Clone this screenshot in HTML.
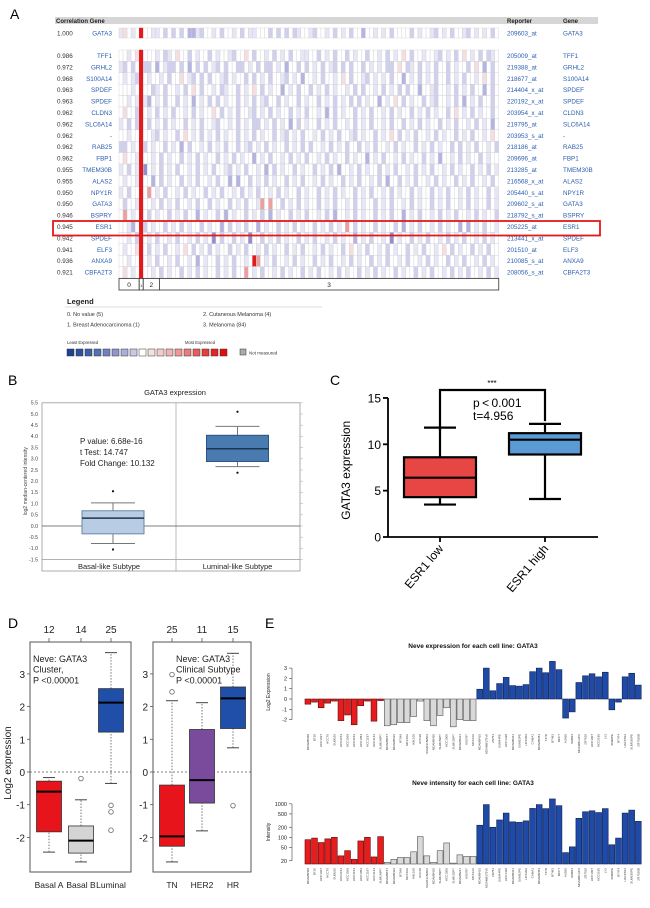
<!DOCTYPE html>
<html><head><meta charset="utf-8">
<style>
html,body{margin:0;padding:0;background:#fff;}
svg{display:block;font-family:"Liberation Sans",sans-serif;}
</style></head>
<body>
<svg id="fig" width="650" height="908" viewBox="0 0 650 908" xmlns="http://www.w3.org/2000/svg"></svg>
<script>
// ---------- Panel A data ----------
const heatGenes = ["GATA3","TFF1","GRHL2","S100A14","SPDEF","SPDEF","CLDN3","SLC6A14","-","RAB25","FBP1","TMEM30B","ALAS2","NPY1R","GATA3","BSPRY","ESR1","SPDEF","ELF3","ANXA9","CBFA2T3"];
const heatCorr = ["1.000","0.986","0.972","0.968","0.963","0.963","0.962","0.962","0.962","0.962","0.962","0.955","0.955","0.950","0.950","0.946","0.945","0.942","0.941","0.936","0.921"];
const heatReporters = ["209603_at","205009_at","219388_at","218677_at","214404_x_at","220192_x_at","203954_x_at","219795_at","203953_s_at","218186_at","209696_at","213285_at","216568_x_at","205440_s_at","209602_s_at","218792_s_at","205225_at","213441_x_at","201510_at","210085_s_at","208056_s_at"];
const heatRows = [
"1p.1.R..11.2.2.2.3312..1.2..1.2.11...2.2.2.21..12..1.2.1.2..3..1.1.2....2.1..12.1.2..12.1.1.2.2",
"..1.pR...1.21.p..2.1..2.1..12..p.2..1.2.1.2..11..2.1.2..2.1..2..1.2.1.p.2..1..12.1.2.p.1.2.21.1",
"12.2.R22.3.122.2.3.2.2.12.2..22.1.2.22.1.3..2.2.1.2.12.2.2..2.1.1.22.p.21.2.1.2..2.1..2.p.3.2.",
".1.12R.1..1.2..p.12.2.2..12.1..2.2.1.2..12.1.3..1.2..1.p.2..12.1.1.2..3.1.2.1.2..2.1.2..1.p.2.1",
"...1.R..21.2..1.2.p.2..1.21..2.1.p.2.1..3.1.2..2.1.2.1..1.2.2..1.2.1.2.2..3..12..1.2.1.2..3.2.3",
"..1.1R13.1.2..2.1.3.1.2.2.1..2.1.2.12..2.1..2.1..2.1.2.1.2.2.1..3.1.p.2.1..2.12..1.2.3.1.2..2.1",
".p..2R.1.2.1.2..1.2.1..p.2.1.2..12.1.2.1..2.1.2..1.3.2.1..2.1.2..1.2.1..2.1.2.1..2.p.1.2.1..2.",
"1.2.2R.2.1.2.1..2.1.2..12..1.2.1.22.1.2.1.3.2.1..2.1.2..1.2.1.2..1.2..2.1.2.1..2.1.2..1.2.1.3.",
"..1..R..12.1..2.p.1.2.1.2.1..2.1.2.1..2.12.1.2..1.2.1.2..12.1..2.1.p.2.1.2..1.2.1..2.1.2..1.p.",
"22.1.R2.1..2.1.3.2..1.2.1.2..2.12.1.2.1..2.1.2.2..1.2.1.2..2.1.2..1.2.1..2.1.2.1..2.2.1.2..1.2",
".p..1R..1.2.1..2.1.2.1..2.1.2.1..3.1.2..1.2.1.2..1.2.1..2.1..3.1.2..1.2.1..2.1.3..1.2.1..2.1..",
"1.2.1R4.1.2.1.2..1.2.1.2..12.1.2..1.3.2.1..2.1..2.1.2.3..1.2.1..2.1.2..1.2.1.2..1.2.1..2.1.2.1",
".1..1R..3.2.1..2.1.2..1.2..3.3..2.1.2.1..2.1.2..1.2.1..2.1.2..1.2.3..2.1.2..1.2.1..2.1.2..1.2.",
"1.2..R.q.1.2..1.2.1..2.1.2..1.2.1.2..1.2.1..2.1..2.1.2.1..2.1.2..1.2.1..2.1..2.1.2..1.2.1..2.1",
".2..1R..1.2.1.2..1.2..2.1..2.1.2..1q.q..2.1.2.1..2.1.2..1.2.1..2.1.2..1.2.1..2.1.2..1.2.1..2.1",
".q.1.R.2.1..2.1.2..3.1..2.3.1..2.1.2.3.1..2.1.2..1.2.3..1.2.1..2.1.2..3.1.2..1.2.1.2..1.2.1..2",
"..13.R2.1..2.1.2.1..2.1..3.2.1.2..3.1..2.1.2.1..2.1.2.1.q.2.1..2.1..2.3.1.2..1.2.1..3.3.1.2..1",
"..1.2R.1.2..1.2..1.2.1.4.2..2.1.4..2.1.2.1..2.1.2..1.2.1..3.1.2..1.4.1..2.1.2..1.2.1.2..1.2.1.3",
".1..pR.2.1.2..1.p.2.1.2.1..2.1.2..1.2.1..2.1.2..1.2.1..2.p.1.2..1.2.1..2.1.2..1.p.2.1..2.1.2.",
"..1..R.1.2..1.2..1.3.1..2.1.2..1.Rq.1.2..1.2.1..2.1.2..1.2.1..2.1.2..1.2..1.2.1..2.1.2..1.2.1.",
".p.1.R..1.2.1..2.1.2.1..2.1.2..q.1.2..1.2.1..2.1.2..1.2.1..2.1.2.1..2.1..2.1.2..1.2.1.2..1.2.1"
];
const groupLabels = ["0","1","2","3"];
const groupSizes = [5,1,4,84];
const legendItems = ["0. No value (5)","1. Breast Adenocarcinoma (1)","2. Cutaneous Melanoma (4)","3. Melanoma (84)"];

// ---------- Panel B data ----------
const bCats = ["Basal-like Subtype","Luminal-like Subtype"];
const bQ1 = [-0.35, 2.88];
const bQ3 = [0.68, 4.05];
const bMed = [0.35, 3.45];
const bLo = [-0.78, 2.65];
const bHi = [1.03, 4.45];
const bOutLo = [-1.05, 2.38];
const bOutHi = [1.55, 5.1];
const bTicks = [-1.5,-1.0,-0.5,0.0,0.5,1.0,1.5,2.0,2.5,3.0,3.5,4.0,4.5,5.0,5.5];

// ---------- Panel C data ----------
const cCats = ["ESR1 low","ESR1 high"];
const cQ1 = [4.3, 8.9];
const cQ3 = [8.6, 11.2];
const cMed = [6.4, 10.5];
const cLo = [3.5, 4.1];
const cHi = [11.8, 12.2];
const cTicks = [0,5,10,15];

// ---------- Panel D data ----------
const dCatsL = ["Basal A","Basal B","Luminal"];
const dCountsL = ["12","14","25"];
const dQ1L = [-1.83,-2.48,1.22];
const dQ3L = [-0.28,-1.65,2.55];
const dMedL = [-0.6,-2.1,2.12];
const dLoL = [-2.45,-2.75,-0.35];
const dHiL = [-0.17,-0.85,3.65];
const dOutL = [[],[-0.2],[-1.02,-1.22,-1.78]];
const dCatsR = ["TN","HER2","HR"];
const dCountsR = ["25","11","15"];
const dQ1R = [-2.27,-0.95,1.33];
const dQ3R = [-0.4,1.3,2.6];
const dMedR = [-1.97,-0.25,2.25];
const dLoR = [-2.75,-1.8,0.74];
const dHiR = [2.18,2.12,3.63];
const dOutR = [[2.45,2.98],[],[-1.03]];
const dTicks = [-2,-1,0,1,2,3];

// ---------- Panel E data ----------
const eCells = ["MDAMB468","BT20","HCC1937","HCC70","SUM225","HCC2153","HCC1569","HCC3153","HCC1954","HCC1187","HCC1143","SUM149PT",
"MDAMB157","MDAMB436","BT549","MCF10A","HBL100","HCC38","SUM1315MO2","MDAMB435","SUM159PT","HCC1500","SUM102PT","MDAMB231","HS578T","MCF12A",
"MDAMB415","MDAMB175VII","ZR751","SUM44PE","HCC1428","MDAMB361","SUM52PE","HCC202","CAMA1","MDAMB453","T47D","BT483","MCF7","AU565","SKBR3","MDAMB134VI","ZR7530","HCC1007","HCC2185","LY2","600MPE","BT474","UACC812","SUM185PE","ZR7530B"];
const eGroup = ["r","r","r","r","r","r","r","r","r","r","r","r",
"g","g","g","g","g","g","g","g","g","g","g","g","g","g",
"b","b","b","b","b","b","b","b","b","b","b","b","b","b","b","b","b","b","b","b","b","b","b","b","b"];
const eExpr = [-0.5,-0.3,-0.85,-0.4,-0.2,-2.1,-1.55,-2.5,-0.65,-0.2,-2.15,-0.15,
-2.6,-2.5,-2.3,-2.3,-1.7,-0.2,-2.1,-2.6,-1.6,-0.85,-2.7,-2.0,-2.1,-2.1,
0.95,3.0,0.8,1.5,2.1,1.3,1.25,1.4,2.65,3.0,2.55,3.65,2.85,-1.85,-1.25,1.6,2.25,2.45,2.15,2.6,-1.05,-0.3,2.15,2.5,1.35];
const eInt = [85,95,70,90,100,28,40,22,78,100,26,105,
18,22,25,25,37,105,28,18,40,68,17,30,27,27,
230,950,200,330,530,290,280,310,730,950,720,1400,880,35,52,370,580,620,550,720,60,95,530,650,300];
const eExprTicks = [-2,-1,0,1,2,3];
const eIntTicks = [20,50,100,200,500,1000];

// ---------- helpers ----------
const NS = "http://www.w3.org/2000/svg";
const S = document.getElementById("fig");
function el(tag, attrs, parent){
  const e = document.createElementNS(NS, tag);
  for (const k in attrs) e.setAttribute(k, attrs[k]);
  (parent || S).appendChild(e);
  return e;
}
function txt(x, y, s, size, anchor, fill, parent, weight){
  const t = el("text", {x:x, y:y, "font-size":size, "text-anchor":anchor||"start", fill:fill||"#000"}, parent);
  if (weight) t.setAttribute("font-weight", weight);
  t.textContent = s;
  return t;
}
function grp(){ return el("g", {}); }

// ---------- Panel letters ----------
[["A",10,19],["B",8,385],["C",330,385],["D",8,628],["E",265,628]].forEach(p=>{
  const t = txt(p[1], p[2], p[0], 14, "start", "#000");
  
  
});

// ---------- Panel A ----------
const gA = grp();


const hdr = el("rect", {x:55, y:17, width:543, height:7, fill:"#d6d6d6"}, gA);


txt(56, 23, "Correlation Gene", 6, "start", "#222", gA, "bold");
txt(507, 23, "Reporter", 6, "start", "#222", gA, "bold");
txt(563, 23, "Gene", 6, "start", "#222", gA, "bold");
const cellColors = {".":"#ffffff","1":"#e6e6f5","2":"#d0d0ec","3":"#b4b4e0","4":"#9090cc","p":"#f7dede","q":"#ef9e9e","R":"#e41a1a"};
const hx0 = 119, colW = 4.04, nCols = 94;
heatRows.forEach((row, i)=>{
  const y = i === 0 ? 28 : 50 + (i-1)*11.4;
  const h = i === 0 ? 10 : 11.4;
  const rg = el("g", {}, gA);
  
  
  for (let c = 0; c < nCols; c++){
    const ch = row[c] || ".";
    const r = el("rect", {x:hx0 + c*colW, y:y, width:colW, height:h, fill:cellColors[ch] || "#fff", stroke:"#cfcfd8", "stroke-width":0.4}, rg);
    if (c === 5) r.setAttribute("stroke", "#e41a1a");
    
    
  }
  const ty = y + h/2 + 2.3;
  txt(57, ty, heatCorr[i], 6.3, "start", "#333", gA);
  txt(112, ty, heatGenes[i], 6.3, "end", "#2a5db0", gA);
  txt(507, ty, heatReporters[i], 6.3, "start", "#2a5db0", gA);
  txt(563, ty, heatGenes[i], 6.3, "start", "#2a5db0", gA);
});
// group bar
const gb = el("g", {}, gA);


let gx = hx0;
groupSizes.forEach((n, k)=>{
  const w = n*colW;
  el("rect", {x:gx, y:278.5, width:w, height:11.5, fill:"#fff", stroke:"#333", "stroke-width":0.8}, gb);
  txt(gx + w/2, 287, groupLabels[k], k===1?4:6.5, "middle", "#222", gb);
  gx += w;
});
const hl = el("rect", {x:53, y:221, width:547, height:14.5, fill:"none", stroke:"#e41a1a", "stroke-width":1.8}, gA);


// legend
const lg = el("g", {}, gA);


txt(67, 304, "Legend", 7.5, "start", "#222", lg, "bold");
el("line", {x1:65, y1:307, x2:322, y2:307, stroke:"#ddd", "stroke-width":1}, lg);
txt(67, 316, legendItems[0], 5.5, "start", "#333", lg);
txt(67, 326.5, legendItems[1], 5.5, "start", "#333", lg);
txt(203, 316, legendItems[2], 5.5, "start", "#333", lg);
txt(203, 326.5, legendItems[3], 5.5, "start", "#333", lg);
txt(67, 344, "Least Expressed", 4.2, "start", "#333", lg);
txt(185, 344, "Most Expressed", 4.2, "start", "#333", lg);
const scale = ["#1d3f94","#2c4f9f","#3e5fa9","#5670b5","#7181c0","#8f96cc","#acaed8","#c9c9e5","#ffffff","#f6e0e0","#f5cccc","#f2b3b3","#ef9898","#ec7b7b","#e95c5c","#e63d3d","#e42323","#e20e0e"];
scale.forEach((c, k)=>{
  const sq = el("rect", {x:67 + k*9, y:349, width:7, height:7, fill:c, stroke:"#333", "stroke-width":0.5}, lg);
  
  
});
el("rect", {x:240, y:349, width:6, height:6, fill:"#aaa", stroke:"#333", "stroke-width":0.5}, lg);
txt(249, 354.5, "Not measured", 4.5, "start", "#333", lg);

// ---------- Panel B ----------
const gB = grp();


const yB = v => 526 - v*22.4;
const bCx = [113, 237.5];
const bt = txt(175, 395, "GATA3 expression", 7.5, "middle", "#222", gB);


el("rect", {x:42, y:yB(5.5), width:258, height:571-yB(5.5), fill:"none", stroke:"#999", "stroke-width":0.8}, gB);
el("line", {x1:176, y1:yB(5.5), x2:176, y2:571, stroke:"#aaa", "stroke-width":0.8}, gB);
el("line", {x1:42, y1:yB(-1.5), x2:300, y2:yB(-1.5), stroke:"#999", "stroke-width":0.8}, gB);
bTicks.forEach(v=>{
  const t = txt(38, yB(v)+1.8, v.toFixed(1), 5.2, "end", "#444", gB);
  
  
  el("line", {x1:300, y1:yB(v), x2:303, y2:yB(v), stroke:"#aaa", "stroke-width":0.5}, gB);
});
el("line", {x1:42, y1:yB(0), x2:300, y2:yB(0), stroke:"#555", "stroke-width":0.8}, gB);
const byt = txt(0, 0, "log2 median-centered intensity", 5, "middle", "#444", gB);
byt.setAttribute("transform", "translate(27," + yB(2) + ") rotate(-90)");


const bFill = ["#b8cde3","#4a7bb0"], bStroke = ["#6a86a6","#2d5483"];
bCats.forEach((c, i)=>{
  const cx = bCx[i], hw = 31;
  const bg = el("g", {}, gB);
  
  
  el("line", {x1:cx, y1:yB(bLo[i]), x2:cx, y2:yB(bQ1[i]), stroke:"#777", "stroke-width":1}, bg);
  el("line", {x1:cx, y1:yB(bQ3[i]), x2:cx, y2:yB(bHi[i]), stroke:"#777", "stroke-width":1}, bg);
  el("line", {x1:cx-22, y1:yB(bLo[i]), x2:cx+22, y2:yB(bLo[i]), stroke:"#777", "stroke-width":1}, bg);
  el("line", {x1:cx-22, y1:yB(bHi[i]), x2:cx+22, y2:yB(bHi[i]), stroke:"#777", "stroke-width":1}, bg);
  el("rect", {x:cx-hw, y:yB(bQ3[i]), width:2*hw, height:yB(bQ1[i])-yB(bQ3[i]), fill:bFill[i], stroke:bStroke[i], "stroke-width":1}, bg);
  el("line", {x1:cx-hw, y1:yB(bMed[i]), x2:cx+hw, y2:yB(bMed[i]), stroke:"#1d3550", "stroke-width":1.5}, bg);
  el("circle", {cx:cx, cy:yB(bOutLo[i]), r:1.1, fill:"#111"}, bg);
  el("circle", {cx:cx, cy:yB(bOutHi[i]), r:1.1, fill:"#111"}, bg);
  const lt = txt(i===0?109:237.5, 569, c, 7.5, "middle", "#222", gB);
  
  
});
const bst = txt(80, 444, "P value: 6.68e-16", 8, "start", "#222", gB);


txt(80, 455, "t Test: 14.747", 8, "start", "#222", gB);
txt(80, 466, "Fold Change: 10.132", 8, "start", "#222", gB);

// ---------- Panel C ----------
const gC = grp();


const yC = v => 537 - v*9.27;
const cCx = [440, 545];
el("line", {x1:388, y1:yC(15), x2:388, y2:537, stroke:"#000", "stroke-width":1.8}, gC);
el("line", {x1:388, y1:537, x2:598, y2:537, stroke:"#000", "stroke-width":1.8}, gC);
cTicks.forEach(v=>{
  el("line", {x1:383, y1:yC(v), x2:388, y2:yC(v), stroke:"#000", "stroke-width":1.8}, gC);
  const t = txt(381, yC(v)+4.5, String(v), 12, "end", "#000", gC);
  
  
});
const cyt = txt(0, 0, "GATA3 expression", 12, "middle", "#000", gC);
cyt.setAttribute("transform", "translate(350," + yC(7.2) + ") rotate(-90)");


const cFill = ["#e84545","#5b9bd5"];
cCats.forEach((c, i)=>{
  const cx = cCx[i], hw = 36;
  const bg = el("g", {}, gC);
  
  
  el("line", {x1:cx, y1:yC(cLo[i]), x2:cx, y2:yC(cHi[i]), stroke:"#000", "stroke-width":2.2}, bg);
  el("line", {x1:cx-16, y1:yC(cLo[i]), x2:cx+16, y2:yC(cLo[i]), stroke:"#000", "stroke-width":2.2}, bg);
  el("line", {x1:cx-16, y1:yC(cHi[i]), x2:cx+16, y2:yC(cHi[i]), stroke:"#000", "stroke-width":2.2}, bg);
  el("rect", {x:cx-hw, y:yC(cQ3[i]), width:2*hw, height:yC(cQ1[i])-yC(cQ3[i]), fill:cFill[i], stroke:"#000", "stroke-width":2.2}, bg);
  el("line", {x1:cx-hw, y1:yC(cMed[i]), x2:cx+hw, y2:yC(cMed[i]), stroke:"#000", "stroke-width":2.2}, bg);
  el("line", {x1:cx, y1:537, x2:cx, y2:542, stroke:"#000", "stroke-width":1.8}, gC);
  const lt = txt(0, 0, c, 12, "end", "#000", gC);
  lt.setAttribute("transform", "translate(" + (cx+4) + ",549) rotate(-50)");
  
  
});
const br = el("path", {d:"M"+cCx[0]+","+yC(cHi[0]-0.3)+" V390 H"+cCx[1]+" V"+yC(cHi[1]+0.3), fill:"none", stroke:"#000", "stroke-width":2.2}, gC);


txt(492, 386, "***", 8, "middle", "#000", gC);
const cst = txt(473, 407, "p\u2009<\u20090.001", 12, "start", "#000", gC);


txt(473, 420, "t=4.956", 12, "start", "#000", gC);

// ---------- Panel D ----------
const yD = v => 772 - v*32.7;
function drawD(name, x0, x1, cx, cats, counts, q1, q3, med, lo, hi, outs, fills, textLines){
  const g = grp();
  
  
  el("rect", {x:x0, y:642, width:x1-x0, height:230, fill:"none", stroke:"#555", "stroke-width":1}, g);
  el("line", {x1:x0, y1:yD(0), x2:x1, y2:yD(0), stroke:"#555", "stroke-width":0.8, "stroke-dasharray":"2,2"}, g);
  dTicks.forEach(v=>{
    el("line", {x1:x0-3, y1:yD(v), x2:x0, y2:yD(v), stroke:"#555", "stroke-width":0.8}, g);
    const t = txt(x0-5, yD(v)+4, String(v), 10, "end", "#222", g);
    
    
  });
  cats.forEach((c, i)=>{
    const x = cx[i], hw = 12.5;
    el("line", {x1:x, y1:638, x2:x, y2:642, stroke:"#555", "stroke-width":0.8}, g);
    txt(x, 633, counts[i], 10, "middle", "#222", g);
    el("line", {x1:x, y1:yD(lo[i]), x2:x, y2:yD(q1[i]), stroke:"#555", "stroke-width":0.8, "stroke-dasharray":"1.5,1.5"}, g);
    el("line", {x1:x, y1:yD(q3[i]), x2:x, y2:yD(hi[i]), stroke:"#555", "stroke-width":0.8, "stroke-dasharray":"1.5,1.5"}, g);
    el("line", {x1:x-6, y1:yD(lo[i]), x2:x+6, y2:yD(lo[i]), stroke:"#444", "stroke-width":1}, g);
    el("line", {x1:x-6, y1:yD(hi[i]), x2:x+6, y2:yD(hi[i]), stroke:"#444", "stroke-width":1}, g);
    const b = el("rect", {x:x-hw, y:yD(q3[i]), width:2*hw, height:yD(q1[i])-yD(q3[i]), fill:fills[i], stroke:"#333", "stroke-width":0.8}, g);
    
    
    el("line", {x1:x-hw, y1:yD(med[i]), x2:x+hw, y2:yD(med[i]), stroke:"#000", "stroke-width":2}, g);
    outs[i].forEach(o=>{
      el("circle", {cx:x, cy:yD(o), r:2.3, fill:"none", stroke:"#666", "stroke-width":0.8}, g);
    });
    const lt = txt(x, 888, c, 8.5, "middle", "#222", g);
    
    
  });
  textLines.forEach((s, k)=> txt(textLines.x, 662 + k*10.7, s, 9, "start", "#222", g));
  return g;
}
const tL = ["Neve: GATA3","Cluster,","P <0.00001"]; tL.x = 33;
const tR = ["Neve: GATA3","Clinical Subtype","P <0.00001"]; tR.x = 176;
drawD('panel-d-cluster-boxplot', 30, 131, [49,81,111], dCatsL, dCountsL, dQ1L, dQ3L, dMedL, dLoL, dHiL, dOutL, ["#e8141c","#d4d4d4","#1f4fa8"], tL);
drawD('panel-d-clinical-boxplot', 153, 251, [172,202,233], dCatsR, dCountsR, dQ1R, dQ3R, dMedR, dLoR, dHiR, dOutR, ["#e8141c","#7a4a9c","#1f4fa8"], tR);
const dyt = txt(0, 0, "Log2 expression", 10, "middle", "#222");
dyt.setAttribute("transform", "translate(11,763) rotate(-90)");



// ---------- Panel E ----------
const ex0 = 305, eStep = (642-305)/eCells.length, eBw = eStep*0.88;
const eFill = {r:"#e81c1c", g:"#d9d9d9", b:"#1f4aa8"};
const eStroke = {r:"#5a0a0a", g:"#555", b:"#0d2050"};
const yE = v => 699 - v*10.3;
const yI = v => 864 - (Math.log10(v) - Math.log10(16))*33.5;
// expression chart
const gE1 = grp();


const e1t = txt(473, 648, "Neve  expression for each cell line: GATA3", 6.5, "middle", "#111", gE1, "bold");


el("line", {x1:292, y1:yE(3), x2:292, y2:yE(-2), stroke:"#444", "stroke-width":0.6}, gE1);
eExprTicks.forEach(v=>{
  el("line", {x1:289, y1:yE(v), x2:292, y2:yE(v), stroke:"#444", "stroke-width":0.6}, gE1);
  txt(287, yE(v)+2, String(v), 5.5, "end", "#222", gE1);
});
const e1y = txt(0, 0, "Log2 Expression", 5, "middle", "#222", gE1);
e1y.setAttribute("transform", "translate(270,692) rotate(-90)");
eExpr.forEach((v, i)=>{
  const x = ex0 + i*eStep;
  const r = el("rect", {x:x, y:Math.min(yE(v), yE(0)), width:eBw, height:Math.abs(yE(v)-yE(0)), fill:eFill[eGroup[i]], stroke:eStroke[eGroup[i]], "stroke-width":0.6}, gE1);
  
  
  const t = txt(0, 0, eCells[i], 3, "end", "#333", gE1);
  t.setAttribute("transform", "translate(" + (x+eBw/2+1) + ",734) rotate(-90)");
});
// intensity chart
const gE2 = grp();


const e2t = txt(473, 785, "Neve  intensity for each cell line: GATA3", 6.5, "middle", "#111", gE2, "bold");


el("line", {x1:292, y1:yI(1000), x2:292, y2:yI(20), stroke:"#444", "stroke-width":0.6}, gE2);
eIntTicks.forEach(v=>{
  el("line", {x1:289, y1:yI(v), x2:292, y2:yI(v), stroke:"#444", "stroke-width":0.6}, gE2);
  txt(287, yI(v)+2, String(v), 5.5, "end", "#222", gE2);
});
const e2y = txt(0, 0, "Intensity", 5, "middle", "#222", gE2);
e2y.setAttribute("transform", "translate(270,832) rotate(-90)");
eInt.forEach((v, i)=>{
  const x = ex0 + i*eStep;
  const r = el("rect", {x:x, y:yI(v), width:eBw, height:864-yI(v), fill:eFill[eGroup[i]], stroke:eStroke[eGroup[i]], "stroke-width":0.6}, gE2);
  
  
  const t = txt(0, 0, eCells[i], 3, "end", "#333", gE2);
  t.setAttribute("transform", "translate(" + (x+eBw/2+1) + ",868) rotate(-90)");
});
</script>
</body></html>
